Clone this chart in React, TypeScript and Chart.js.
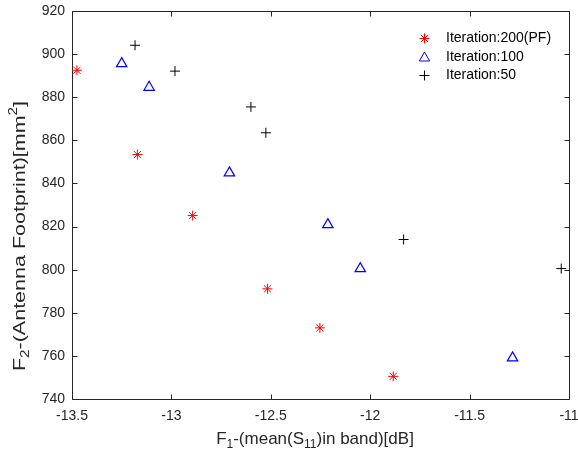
import React, { useEffect, useRef } from 'react';
import { Chart, registerables } from 'chart.js';

Chart.register(...registerables);

// ---- data ----
const iter200X = [-13.475, -13.171, -12.893, -12.517, -12.253, -11.884];
const iter200Y = [892.5, 853.4, 825.1, 791.1, 773.0, 750.5];
const iter100X = [-13.25, -13.112, -12.708, -12.213, -12.05, -11.284];
const iter100Y = [895.6, 884.6, 844.9, 820.9, 800.5, 759.1];
const iter50X = [-13.183, -12.982, -12.6, -12.525, -11.832, -11.039];
const iter50Y = [904.1, 892.1, 875.5, 863.5, 814.0, 800.5];

const seriesLabels = ['Iteration:200(PF)', 'Iteration:100', 'Iteration:50'];
const xTicks = [-13.5, -13, -12.5, -12, -11.5, -11];
const yTicks = [740, 760, 780, 800, 820, 840, 860, 880, 900, 920];

// axis titles (pieces: normal / subscript / superscript)
const xTitleParts = [
  { t: 'F' }, { t: '1', sub: true }, { t: '-(mean(S' }, { t: '11', sub: true }, { t: ')in band)[dB]' },
];
const yTitleParts = [
  { t: 'F' }, { t: '2', sub: true }, { t: '-(Antenna Footprint)[mm' }, { t: '2', sup: true }, { t: ']' },
];

const FONT = '"Liberation Sans", Arial, Helvetica, sans-serif';
const AX = '#262626';

function toPts(xs: number[], ys: number[]) {
  return xs.map((x, i) => ({ x, y: ys[i] }));
}

type Part = { t: string; sub?: boolean; sup?: boolean };

function drawRich(
  ctx: CanvasRenderingContext2D, parts: Part[], cx: number, cy: number,
  size: number, rotate: boolean, targetLen?: number,
) {
  ctx.save();
  ctx.translate(cx, cy);
  if (rotate) ctx.rotate(-Math.PI / 2);
  const base = `${size}px ${FONT}`;
  const small = `${Math.round(size * 0.72)}px ${FONT}`;
  let total = 0;
  for (const p of parts) {
    ctx.font = p.sub || p.sup ? small : base;
    total += ctx.measureText(p.t).width;
  }
  if (targetLen) ctx.scale(targetLen / total, 1);
  let x = -total / 2;
  ctx.textBaseline = 'middle';
  ctx.textAlign = 'left';
  ctx.fillStyle = AX;
  for (const p of parts) {
    ctx.font = p.sub || p.sup ? small : base;
    const dy = p.sub ? size * 0.32 : p.sup ? -size * 0.38 : 0;
    ctx.fillText(p.t, x, dy);
    x += ctx.measureText(p.t).width;
  }
  ctx.restore();
}

function drawMarker(ctx: CanvasRenderingContext2D, style: string, x: number, y: number, r: number, color: string) {
  ctx.save();
  ctx.strokeStyle = color;
  ctx.lineWidth = 1;
  ctx.beginPath();
  if (style === 'star') {
    const d = r * Math.SQRT1_2;
    ctx.moveTo(x - r, y); ctx.lineTo(x + r, y);
    ctx.moveTo(x, y - r); ctx.lineTo(x, y + r);
    ctx.moveTo(x - d, y - d); ctx.lineTo(x + d, y + d);
    ctx.moveTo(x - d, y + d); ctx.lineTo(x + d, y - d);
  } else if (style === 'triangle') {
    const s = Math.sin(Math.PI / 3) * r;
    ctx.moveTo(x, y - r);
    ctx.lineTo(x + s, y + r / 2);
    ctx.lineTo(x - s, y + r / 2);
    ctx.closePath();
  } else {
    ctx.moveTo(x - r, y); ctx.lineTo(x + r, y);
    ctx.moveTo(x, y - r); ctx.lineTo(x, y + r);
  }
  ctx.stroke();
  ctx.restore();
}

const framePlugin = {
  id: 'matlabFrame',
  beforeDatasetsDraw(chart: any) {
    const { ctx, chartArea: a, scales } = chart;
    const L = Math.round(a.left) + 0.5, R = Math.round(a.right) + 0.5;
    const T = Math.round(a.top) + 0.5, B = Math.round(a.bottom) + 0.5;
    ctx.save();
    ctx.strokeStyle = AX;
    ctx.lineWidth = 1;
    ctx.beginPath();
    ctx.rect(L, T, R - L, B - T);
    const tl = 5;
    for (const v of xTicks) {
      const px = Math.round(scales.x.getPixelForValue(v)) + 0.5;
      ctx.moveTo(px, B); ctx.lineTo(px, B - tl);
      ctx.moveTo(px, T); ctx.lineTo(px, T + tl);
    }
    for (const v of yTicks) {
      const py = Math.round(scales.y.getPixelForValue(v)) + 0.5;
      ctx.moveTo(L, py); ctx.lineTo(L + tl, py);
      ctx.moveTo(R, py); ctx.lineTo(R - tl, py);
    }
    ctx.stroke();
    ctx.restore();
  },
  afterDraw(chart: any) {
    const { ctx } = chart;
    drawRich(ctx, xTitleParts, 315, 439, 17, false);
    drawRich(ctx, yTitleParts, 20, 236, 17, true, 270);
    // legend (no box)
    const styles = ['star', 'triangle', 'cross'];
    const colors = ['#FF0000', '#0000FF', '#000000'];
    const radii = [5, 6, 5];
    const rows = [38.5, 57, 75.5];
    ctx.save();
    ctx.font = `14px ${FONT}`;
    ctx.textBaseline = 'middle';
    ctx.textAlign = 'left';
    for (let i = 0; i < 3; i++) {
      drawMarker(ctx, styles[i], 424.5, rows[i] + (styles[i] === 'triangle' ? 1 : 0), radii[i], colors[i]);
      ctx.fillStyle = '#000';
      ctx.fillText(seriesLabels[i], 446, rows[i]);
    }
    ctx.restore();
  },
};

export default function App() {
  const ref = useRef<HTMLCanvasElement>(null);
  useEffect(() => {
    if (!ref.current) return;
    const chart = new Chart(ref.current, {
      type: 'scatter',
      data: {
        datasets: [
          {
            label: seriesLabels[0],
            data: toPts(iter200X, iter200Y),
            pointStyle: 'star',
            pointRadius: 5,
            borderColor: '#FF0000',
            backgroundColor: '#FF0000',
            borderWidth: 1,
          },
          {
            label: seriesLabels[1],
            data: toPts(iter100X, iter100Y),
            pointStyle: 'triangle',
            pointRadius: 6,
            borderColor: '#0000FF',
            backgroundColor: 'rgba(0,0,0,0)',
            borderWidth: 1.2,
          },
          {
            label: seriesLabels[2],
            data: toPts(iter50X, iter50Y),
            pointStyle: 'cross',
            pointRadius: 5,
            borderColor: '#000000',
            backgroundColor: '#000000',
            borderWidth: 1,
          },
        ],
      },
      options: {
        animation: false,
        responsive: false,
        devicePixelRatio: 1,
        events: [],
        layout: { padding: { left: 0, top: 11, right: 9, bottom: 0 } },
        plugins: {
          legend: { display: false },
          tooltip: { enabled: false },
        },
        scales: {
          x: {
            type: 'linear',
            min: -13.5,
            max: -11,
            afterBuildTicks: (s: any) => { s.ticks = xTicks.map((v) => ({ value: v })); },
            afterFit: (s: any) => { s.height = 56; s.paddingLeft = 0; s.paddingRight = 0; },
            grid: { display: false, drawTicks: false },
            border: { display: false },
            ticks: {
              color: AX,
              font: { family: FONT, size: 14 },
              padding: 9,
              maxRotation: 0,
              autoSkip: false,
              callback: (v: any) => String(v),
            },
          },
          y: {
            type: 'linear',
            min: 740,
            max: 920,
            afterBuildTicks: (s: any) => { s.ticks = yTicks.map((v) => ({ value: v })); },
            afterFit: (s: any) => { s.width = 72; s.paddingTop = 0; s.paddingBottom = 0; },
            grid: { display: false, drawTicks: false },
            border: { display: false },
            ticks: {
              color: AX,
              font: { family: FONT, size: 14 },
              padding: 7,
              autoSkip: false,
              callback: (v: any) => String(v),
            },
          },
        },
      },
      plugins: [framePlugin],
    });
    return () => chart.destroy();
  }, []);
  return (
    <div style={{ position: 'absolute', left: 0, top: 0, width: 578, height: 455, background: '#fff' }}>
      <canvas ref={ref} width={578} height={455} style={{ display: 'block' }} />
    </div>
  );
}
